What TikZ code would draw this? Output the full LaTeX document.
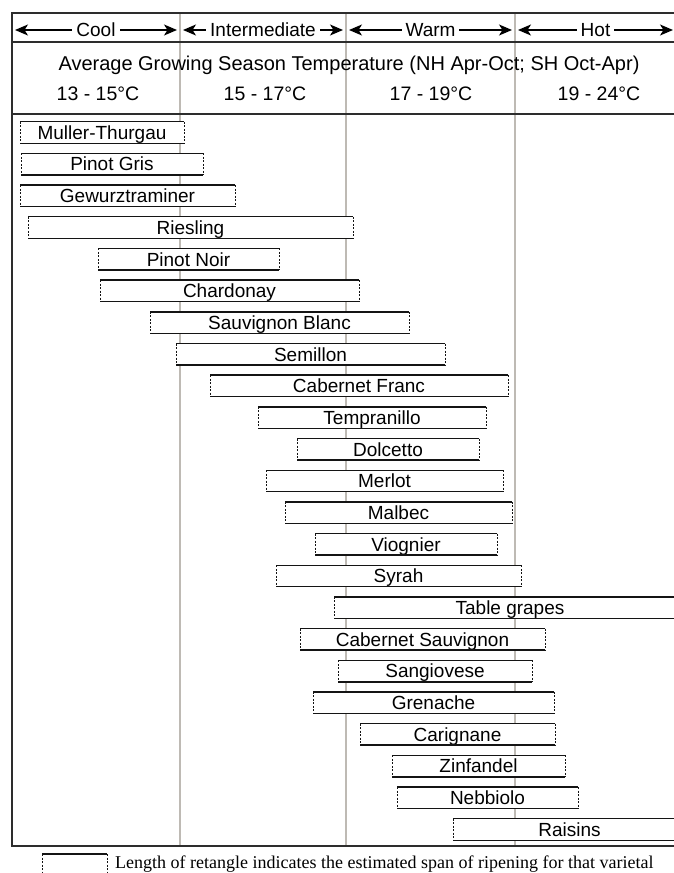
\documentclass[tikz,border=0pt]{standalone}
\usepackage{fontspec}
\setmainfont{Liberation Sans}
\newfontfamily\legendfont{Liberation Serif}
\usetikzlibrary{arrows.meta}
\definecolor{gridgray}{RGB}{190,186,180}
\definecolor{framecol}{RGB}{45,45,45}
\definecolor{boxcol}{RGB}{20,20,20}
\tikzset{
  gridline/.style={draw=gridgray, line width=1.3bp},
  framestroke/.style={draw=framecol, line width=1.7bp},
  hdrarrow/.style={draw=black, line width=1.3bp, {Stealth[length=13bp,width=11bp,inset=3.5bp]}-{Stealth[length=13bp,width=11bp,inset=3.5bp]}},
  hdrlabel/.style={font=\fontsize{19bp}{22bp}\selectfont, fill=white, inner xsep=4bp, inner ysep=0pt, text height=13.6bp, text depth=0pt},
  hdrtext/.style={font=\fontsize{19.5bp}{22bp}\selectfont, inner sep=0pt, text height=14bp, text depth=0pt},
  avgtext/.style={font=\fontsize{20bp}{23bp}\selectfont, inner sep=0pt, text height=14.3bp, text depth=0pt},
  gbox/.style={font=\fontsize{19bp}{22bp}\selectfont, fill=white, inner sep=0pt, outer sep=0pt, minimum height=21.5bp, text height=13.6bp, text depth=0pt},
  gsolid/.style={draw=boxcol, line width=1.4bp},
  gdash/.style={draw=boxcol, line width=1bp, dash pattern=on 2bp off 1.5bp},
  legtext/.style={font=\legendfont\fontsize{18bp}{21bp}\selectfont, inner sep=0pt, text height=11.9bp, text depth=0pt}
}
\begin{document}
\begin{tikzpicture}[x=1bp,y=-1bp]
\useasboundingbox (0,0) rectangle (674,873);
\clip (0,0) rectangle (674,873);
\fill[white] (0,0) rectangle (674,873);
% grid lines
\foreach \x in {180,346,515} \draw[gridline] (\x,13) -- (\x,846);
% frame
\draw[framestroke] (690,13) -- (12,13) -- (12,846) -- (690,846);
\draw[framestroke] (12,42) -- (690,42);
\draw[framestroke] (12,114) -- (690,114);
% climate header arrows
\foreach \a/\b/\t/\n in {12/180/Cool/cool, 180/346/Intermediate/inter, 346/515/Warm/warm, 515/676/Hot/hot} {
  \coordinate (\n-l) at ({\a+3},30);
  \coordinate (\n-r) at ({\b-3},30);
  \draw[hdrarrow] (\n-l) -- (\n-r);
  \node[hdrlabel] (\n) at ({(\a+\b)/2},30) {\t};
}
\node[avgtext] (avg) at (349,63) {Average Growing Season Temperature (NH Apr-Oct; SH Oct-Apr)};
\node[hdrtext] (t1) at (98,93) {13 - 15°C};
\node[hdrtext] (t2) at (265,93) {15 - 17°C};
\node[hdrtext] (t3) at (431,93) {17 - 19°C};
\node[hdrtext] (t4) at (599,93) {19 - 24°C};
% varietal boxes
\foreach \xa/\xb/\lab [count=\i from 0] in {
  20/184/Muller-Thurgau,
  21/203/Pinot Gris,
  20/235/Gewurztraminer,
  28/353/Riesling,
  98/279/Pinot Noir,
  100/359/Chardonay,
  150/409/Sauvignon Blanc,
  176/445/Semillon,
  210/508/Cabernet Franc,
  258/486/Tempranillo,
  297/479/Dolcetto,
  266/503/Merlot,
  285/512/Malbec,
  315/497/Viognier,
  276/521/Syrah,
  334/686/Table grapes,
  300/545/Cabernet Sauvignon,
  338/532/Sangiovese,
  313/554/Grenache,
  360/555/Carignane,
  392/565/Zinfandel,
  397/578/Nebbiolo,
  453/686/Raisins} {
  \node[gbox, minimum width={(\xb-\xa)*1bp}] (g\i) at ({(\xa+\xb)/2},{132.5+31.68*\i}) {\lab};
  \draw[gsolid] (g\i.north west) -- (g\i.north east) (g\i.south west) -- (g\i.south east);
  \draw[gdash] (g\i.north west) -- (g\i.south west) (g\i.north east) -- (g\i.south east);
}
% legend
\node[gbox, minimum width=65bp, minimum height=28bp] (leg) at (74.5,868) {};
\draw[gsolid] (leg.north west) -- (leg.north east) (leg.south west) -- (leg.south east);
\draw[gdash] (leg.north west) -- (leg.south west) (leg.north east) -- (leg.south east);
\node[legtext, anchor=west] (legt) at (115,863) {Length of retangle indicates the estimated span of ripening for that varietal};
\end{tikzpicture}
\end{document}
